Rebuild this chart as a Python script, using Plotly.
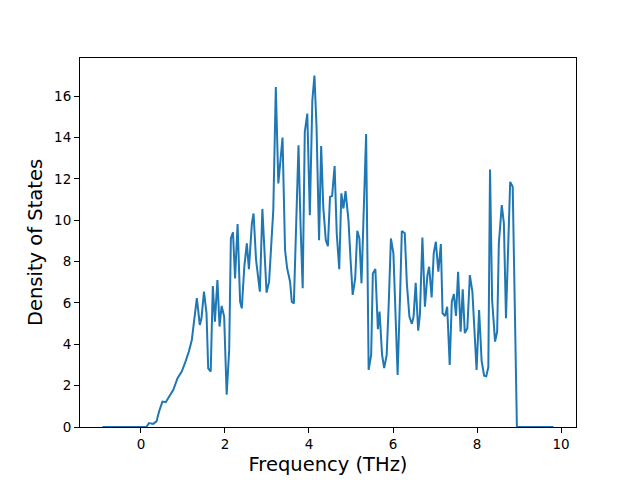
import plotly.graph_objects as go

freq = [-0.92, 0.13, 0.19, 0.29, 0.37, 0.43, 0.51, 0.59, 0.65, 0.77,
        0.87, 0.97, 1.06, 1.14, 1.21, 1.27, 1.33, 1.40, 1.44, 1.50,
        1.56, 1.60, 1.66, 1.71, 1.76, 1.82, 1.87, 1.92, 1.98, 2.04,
        2.10, 2.14, 2.19, 2.24, 2.30, 2.36, 2.40, 2.46, 2.52, 2.57,
        2.64, 2.68, 2.74, 2.83, 2.89, 2.99, 3.05, 3.15, 3.21, 3.27,
        3.37, 3.43, 3.48, 3.55, 3.59, 3.64, 3.75, 3.80, 3.85, 3.90,
        3.96, 4.02, 4.08, 4.13, 4.18, 4.24, 4.29, 4.34, 4.40, 4.45,
        4.50, 4.55, 4.61, 4.66, 4.72, 4.77, 4.82, 4.87, 4.94, 4.99,
        5.04, 5.10, 5.15, 5.20, 5.25, 5.36, 5.42, 5.48, 5.52, 5.58,
        5.64, 5.68, 5.74, 5.79, 5.85, 5.90, 5.95, 6.01, 6.06, 6.11,
        6.17, 6.21, 6.28, 6.33, 6.39, 6.45, 6.49, 6.54, 6.60, 6.64,
        6.70, 6.76, 6.82, 6.86, 6.92, 6.97, 7.02, 7.08, 7.14, 7.18,
        7.24, 7.29, 7.35, 7.40, 7.45, 7.50, 7.55, 7.61, 7.66, 7.71,
        7.77, 7.83, 7.89, 7.94, 7.99, 8.05, 8.11, 8.17, 8.22, 8.27,
        8.31, 8.36, 8.43, 8.48, 8.52, 8.59, 8.64, 8.69, 8.75, 8.79,
        8.85, 8.92, 8.95, 9.82]

dos = [0.0, 0.0, 0.19, 0.15, 0.27, 0.75, 1.23, 1.20, 1.40, 1.80,
       2.36, 2.68, 3.16, 3.65, 4.21, 5.18, 6.23, 4.94, 5.26, 6.55,
       5.50, 2.84, 2.68, 6.82, 5.10, 7.11, 4.86, 5.86, 5.34, 1.56,
       3.73, 9.12, 9.42, 7.19, 9.82, 6.06, 5.74, 7.75, 8.88, 7.63,
       9.85, 10.33, 8.08, 6.55, 10.55, 6.50, 7.03, 10.49, 16.45, 11.78,
       14.00, 8.56, 7.68, 7.03, 6.06, 5.98, 13.63, 9.69, 6.71, 14.28,
       15.16, 10.25, 15.80, 17.00, 14.50, 9.04, 13.59, 10.65, 9.04, 8.75,
       11.14, 11.17, 12.62, 9.37, 7.63, 11.30, 10.57, 11.41, 10.00, 8.08,
       6.39, 7.19, 9.49, 9.12, 6.95, 14.17, 2.76, 3.49, 7.43, 7.64,
       4.73, 5.58, 3.49, 2.85, 3.49, 6.06, 9.12, 8.40, 5.18, 2.52,
       6.47, 9.48, 9.37, 6.95, 5.34, 4.99, 5.34, 6.98, 4.66, 5.42,
       9.17, 5.82, 7.35, 7.75, 6.27, 8.40, 8.96, 7.51, 8.85, 5.50,
       5.37, 5.82, 3.00, 6.06, 6.43, 5.37, 7.51, 4.61, 6.66, 4.54,
       4.78, 7.35, 6.55, 4.54, 2.76, 5.66, 3.20, 2.48, 2.45, 2.90,
       12.46, 6.14, 4.13, 4.61, 8.88, 10.73, 9.85, 5.26, 8.88, 11.86,
       11.62, 4.00, 0.0, 0.0]

x_ticks = [0, 2, 4, 6, 8, 10]
y_ticks = [0, 2, 4, 6, 8, 10, 12, 14, 16]

fig = go.Figure(go.Scatter(x=freq, y=dos, mode="lines",
                           line=dict(color="#1f77b4", width=2)))

axis_common = dict(showline=True, linecolor="black", linewidth=1.1, mirror=True,
                   ticks="outside", ticklen=5, tickwidth=1.1, tickcolor="black",
                   showgrid=False, zeroline=False, automargin=False,
                   tickfont=dict(family="DejaVu Sans", size=13.5, color="black"))

fig.update_layout(
    width=640, height=480,
    margin=dict(l=80, r=64, t=57.6, b=52.8),
    paper_bgcolor="white", plot_bgcolor="white",
    showlegend=False,
    xaxis=dict(range=[-1.452, 10.357], tickvals=x_ticks,
               title=dict(text="Frequency (THz)", font=dict(family="DejaVu Sans", size=19.5, color="black"), standoff=6),
               **axis_common),
    yaxis=dict(range=[0, 17.85], tickvals=y_ticks,
               title=dict(text="Density of States", font=dict(family="DejaVu Sans", size=19.5, color="black"), standoff=6),
               **axis_common),
)

fig.write_html("out.html", config={"displayModeBar": False},
               post_script="document.body.style.margin='0';document.body.style.overflow='hidden';")
